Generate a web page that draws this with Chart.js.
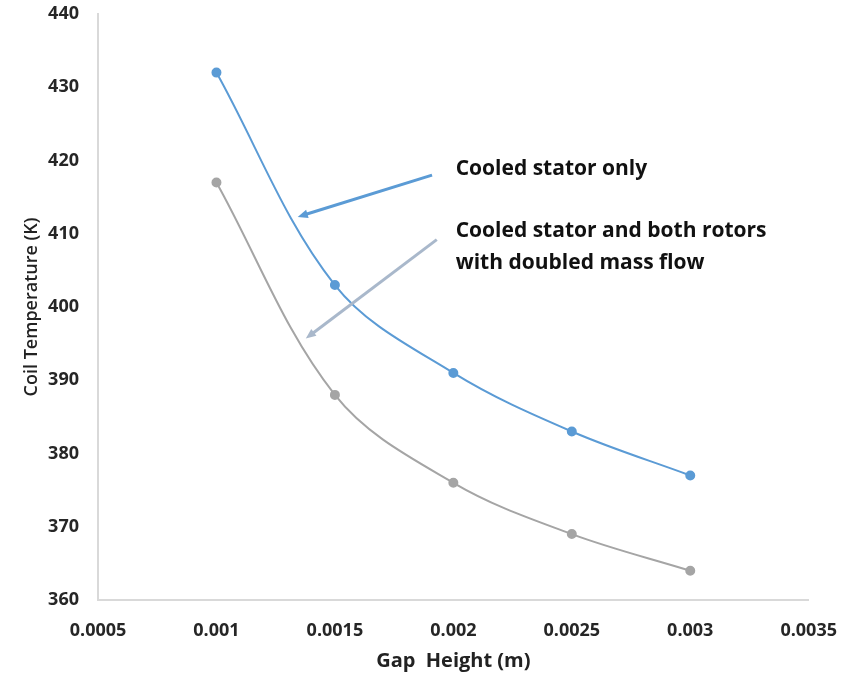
<!DOCTYPE html>
<html>
<head>
<meta charset="utf-8">
<script src="https://cdn.jsdelivr.net/npm/chart.js@4.4.0/dist/chart.umd.min.js"></script>
<style>
  html, body { margin: 0; padding: 0; background: #fff; }
  #wrap { width: 857px; height: 675px; }
</style>
</head>
<body>
<div id="wrap"><canvas id="gapChart" width="857" height="675"></canvas></div>
<script>
const gapHeights = [0.001, 0.0015, 0.002, 0.0025, 0.003];
const statorOnly = [432, 403, 391, 383, 377];
const statorAndRotors = [417, 388, 376, 369, 364];
const xTickValues = [0.0005, 0.001, 0.0015, 0.002, 0.0025, 0.003, 0.0035];
const yTickValues = [360, 370, 380, 390, 400, 410, 420, 430, 440];

// callouts in data units
const notes = [
    { lines: ["Cooled stator only"], x: 0.00201, y: 418.9 },
    { lines: ["Cooled stator and both rotors", "with doubled mass flow"], x: 0.00201, y: 410.4 },
];
const arrows = [
    { from: [0.00191, 418.0], to: [0.001343, 412.3], color: "#5B9BD5" },
    { from: [0.00193, 409.2], to: [0.001377, 395.7], color: "#A9B8CB" },
];

const fontName = "'Open Sans', sans-serif";

const calloutPlugin = {
    id: "callouts",
    afterDatasetsDraw(chart) {
        const ctx = chart.ctx;
        const xs = chart.scales.x, ys = chart.scales.y;
        ctx.save();
        arrows.forEach(a => {
            const x1 = xs.getPixelForValue(a.from[0]), y1 = ys.getPixelForValue(a.from[1]);
            const x2 = xs.getPixelForValue(a.to[0]), y2 = ys.getPixelForValue(a.to[1]);
            const ang = Math.atan2(y2 - y1, x2 - x1);
            const head = 11;
            ctx.strokeStyle = a.color;
            ctx.fillStyle = a.color;
            ctx.lineWidth = 3;
            ctx.beginPath();
            ctx.moveTo(x1, y1);
            ctx.lineTo(x2 - Math.cos(ang) * head * 0.8, y2 - Math.sin(ang) * head * 0.8);
            ctx.stroke();
            ctx.beginPath();
            ctx.moveTo(x2, y2);
            ctx.lineTo(x2 - head * Math.cos(ang - 0.4), y2 - head * Math.sin(ang - 0.4));
            ctx.lineTo(x2 - head * Math.cos(ang + 0.4), y2 - head * Math.sin(ang + 0.4));
            ctx.closePath();
            ctx.fill();
        });
        ctx.fillStyle = "#111";
        ctx.font = "bold 21px " + fontName;
        ctx.textBaseline = "middle";
        ctx.textAlign = "left";
        notes.forEach(n => {
            const x = xs.getPixelForValue(n.x);
            const y = ys.getPixelForValue(n.y);
            n.lines.forEach((t, i) => ctx.fillText(t, x, y + i * 32));
        });
        ctx.restore();
    }
};

const gapChart = new Chart(document.getElementById("gapChart"), {
    type: "line",
    data: {
        datasets: [
            {
                label: "Cooled stator only",
                data: gapHeights.map((g, i) => ({ x: g, y: statorOnly[i] })),
                borderColor: "#5B9BD5",
                backgroundColor: "#5B9BD5",
                borderWidth: 2,
                pointRadius: 4,
                tension: 0.35,
            },
            {
                label: "Cooled stator and both rotors with doubled mass flow",
                data: gapHeights.map((g, i) => ({ x: g, y: statorAndRotors[i] })),
                borderColor: "#A5A5A5",
                backgroundColor: "#A5A5A5",
                borderWidth: 2,
                pointRadius: 4,
                tension: 0.35,
            },
        ],
    },
    options: {
        responsive: false,
        animation: false,
        layout: { padding: { left: 0, right: 47, top: 14, bottom: 0 } },
        plugins: { legend: { display: false }, tooltip: { enabled: false } },
        scales: {
            x: {
                type: "linear",
                min: 0.0005,
                max: 0.0035,
                afterBuildTicks: s => { s.ticks = xTickValues.map(v => ({ value: v })); },
                afterFit: s => { s.height = 75; },
                grid: { display: false, drawTicks: false },
                border: { display: true, color: "#D9D9D9", width: 2 },
                ticks: {
                    padding: 20,
                    color: "#262626",
                    font: { family: fontName, size: 18, weight: "bold" },
                    callback: v => String(+v.toFixed(4)),
                },
                title: {
                    display: true,
                    text: "Gap  Height (m)",
                    color: "#222",
                    font: { family: fontName, size: 20, weight: "bold" },
                    padding: { top: 0, bottom: 2 },
                },
            },
            y: {
                min: 360,
                max: 440,
                afterBuildTicks: s => { s.ticks = yTickValues.map(v => ({ value: v })); },
                afterFit: s => { s.width = 98; s.paddingTop = 0; s.paddingBottom = 0; },
                grid: { display: false, drawTicks: false },
                border: { display: true, color: "#D9D9D9", width: 2 },
                ticks: {
                    padding: 19,
                    color: "#262626",
                    font: { family: fontName, size: 18, weight: "bold" },
                },
                title: {
                    display: true,
                    text: "Coil Temperature (K)",
                    color: "#222",
                    font: { family: fontName, size: 18, weight: "600" },
                    padding: { top: 21, bottom: 0 },
                },
            },
        },
    },
    plugins: [calloutPlugin],
});
</script>
</body>
</html>
